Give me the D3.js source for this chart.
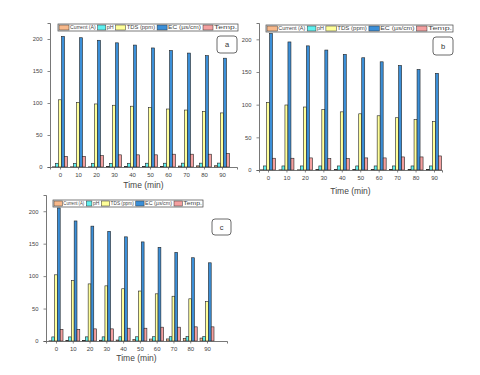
<html>
<head>
<meta charset="utf-8">
<script src="https://cdnjs.cloudflare.com/ajax/libs/d3/7.8.5/d3.min.js"></script>
<style>
  body { margin: 0; background: #fff; }
  text { font-family: "Liberation Sans", Arial, sans-serif; }
</style>
</head>
<body>
<svg id="chart" width="480" height="375"></svg>
<script>
// shared data
var times = [0, 10, 20, 30, 40, 50, 60, 70, 80, 90];
var seriesNames = ["Current (A)", "pH", "TDS (ppm)", "EC (µs/cm)", "Temp."];
var seriesColors = ["#f8b98b", "#5ff0f0", "#ffff99", "#3b8fd8", "#f4a0a0"];
var yTicks = [0, 50, 100, 150, 200];

// panel a
var currentA = [0.3, 0.3, 0.3, 0.5, 0.5, 0.5, 0.8, 1.5, 1.8, 2.0];
var phA = [5.8, 5.7, 5.8, 5.7, 5.8, 5.9, 5.9, 6.0, 6.0, 6.1];
var tdsA = [105, 101, 98.5, 96.5, 95, 92.7, 90.6, 89, 87, 84.5];
var ecA = [204, 202, 198, 194, 190.5, 186, 182, 178, 174, 170];
var tempA = [16.7, 16.7, 17.7, 19, 19, 19, 20, 20, 20, 21];

// panel b
var currentB = [0.3, 0.3, 0.3, 0.6, 0.6, 0.6, 0.8, 0.8, 1.0, 1.0];
var phB = [6.2, 6.2, 6.2, 6.2, 6.2, 6.2, 6.2, 6.2, 6.2, 6.2];
var tdsB = [103.6, 99.5, 96.4, 92.3, 89, 86, 83, 80, 77, 74];
var ecB = [209, 196, 190, 183.6, 177, 171.8, 165.6, 160, 153.8, 148];
var tempB = [18, 18, 18.5, 17.4, 17.4, 18.5, 18.5, 20, 20, 21.5];

// panel c
var currentC = [0.3, 0.5, 0.8, 1.2, 1.5, 2.5, 3.0, 3.2, 3.8, 4.5];
var phC = [6.3, 6.3, 6.4, 6.4, 6.5, 6.5, 6.6, 6.6, 6.7, 6.7];
var tdsC = [102, 93, 88, 85, 80.5, 77, 72.7, 69, 65, 60.8];
var ecC = [205, 185, 177, 169, 160.5, 152.7, 144.4, 136.6, 128.3, 120.5];
var tempC = [18, 18, 18.7, 18.7, 19.7, 19.7, 21.3, 21.3, 21.8, 21.8];

var panels = [
  {tag: "a", series: [currentA, phA, tdsA, ecA, tempA],
   left: 50, right: 237, top: 23, bottom: 167, x0: 60, x90: 222,
   legend: {x: 58, y: 24, w: 180, h: 7}, box: {x: 217, y: 36, w: 20, h: 17},
   titleY: 188, barW: 3.0},
  {tag: "b", series: [currentB, phB, tdsB, ecB, tempB],
   left: 259, right: 442, top: 23, bottom: 170, x0: 268, x90: 434,
   legend: {x: 266, y: 25, w: 187, h: 7}, box: {x: 433, y: 37, w: 20, h: 18},
   titleY: 194, barW: 3.0},
  {tag: "c", series: [currentC, phC, tdsC, ecC, tempC],
   left: 46, right: 227, top: 195, bottom: 341, x0: 56, x90: 207,
   legend: {x: 53, y: 200, w: 150, h: 7}, box: {x: 212, y: 219, w: 19, h: 16},
   titleY: 361, barW: 2.8}
];

var legendFrac = [0.215, 0.10, 0.23, 0.255, 0.20];

var svg = d3.select("#chart");

panels.forEach(function (p) {
  var g = svg.append("g");

  var step = (p.x90 - p.x0) / 90;
  var xScale = d3.scaleLinear()
    .domain([(p.left - p.x0) / step, (p.right - p.x0) / step])
    .range([p.left, p.right]);
  var yScale = d3.scaleLinear().domain([0, 225]).range([p.bottom, p.top]);

  // bars
  p.series.forEach(function (vals, si) {
    var off = (si - 2) * p.barW;
    g.append("g").selectAll("rect")
      .data(vals)
      .enter()
      .append("rect")
      .attr("x", function (d, i) { return xScale(times[i]) + off - p.barW / 2; })
      .attr("y", function (d) { return yScale(d); })
      .attr("width", p.barW)
      .attr("height", function (d) { return p.bottom - yScale(d); })
      .attr("fill", seriesColors[si])
      .attr("stroke", "#222")
      .attr("stroke-width", 0.6);
  });

  // y axis
  var yAxis = d3.axisLeft(yScale).tickValues(yTicks).tickSize(2.5).tickPadding(5);
  var ya = g.append("g").attr("transform", "translate(" + p.left + ",0)").call(yAxis);
  ya.select(".domain").attr("stroke", "#555").attr("stroke-width", 0.8);
  ya.selectAll(".tick line").attr("stroke", "#555").attr("stroke-width", 0.7);
  ya.selectAll("text").attr("font-size", 5.8).attr("fill", "#444");

  // x axis
  var xAxis = d3.axisBottom(xScale).tickValues(times).tickSize(2.5).tickPadding(3);
  var xa = g.append("g").attr("transform", "translate(0," + p.bottom + ")").call(xAxis);
  xa.select(".domain").attr("stroke", "#555").attr("stroke-width", 0.8);
  xa.selectAll(".tick line").attr("stroke", "#555").attr("stroke-width", 0.7);
  xa.selectAll("text").attr("font-size", 6).attr("fill", "#444");

  g.append("text")
    .attr("x", (p.left + p.right) / 2)
    .attr("y", p.titleY)
    .attr("text-anchor", "middle")
    .attr("font-size", 8.5)
    .attr("fill", "#444")
    .text("Time (min)");

  // legend
  var L = p.legend;
  var lg = g.append("g").attr("transform", "translate(" + L.x + "," + L.y + ")");
  lg.append("rect").attr("width", L.w).attr("height", L.h)
    .attr("fill", "#fff").attr("stroke", "#444").attr("stroke-width", 0.7);
  var cx = 0;
  seriesNames.forEach(function (name, i) {
    var iw = legendFrac[i] * L.w;
    var sw = Math.min(10, iw * 0.45) * L.w / 180;
    lg.append("rect")
      .attr("x", cx + 1).attr("y", 1)
      .attr("width", sw).attr("height", L.h - 2)
      .attr("fill", seriesColors[i]).attr("stroke", "#333").attr("stroke-width", 0.5);
    var tw = iw - sw - 3;
    lg.append("text")
      .attr("x", cx + sw + 2).attr("y", L.h - 1.6)
      .attr("font-size", 5).attr("fill", "#444")
      .attr("textLength", tw).attr("lengthAdjust", "spacingAndGlyphs")
      .text(name);
    cx += iw;
  });

  // panel tag
  var B = p.box;
  g.append("rect").attr("x", B.x).attr("y", B.y).attr("width", B.w).attr("height", B.h)
    .attr("rx", 3).attr("fill", "#fff").attr("stroke", "#444").attr("stroke-width", 0.8);
  g.append("text")
    .attr("x", B.x + B.w / 2).attr("y", B.y + B.h / 2 + 2.5)
    .attr("text-anchor", "middle").attr("font-size", 7.5).attr("fill", "#333")
    .text(p.tag);
});
</script>
</body>
</html>
